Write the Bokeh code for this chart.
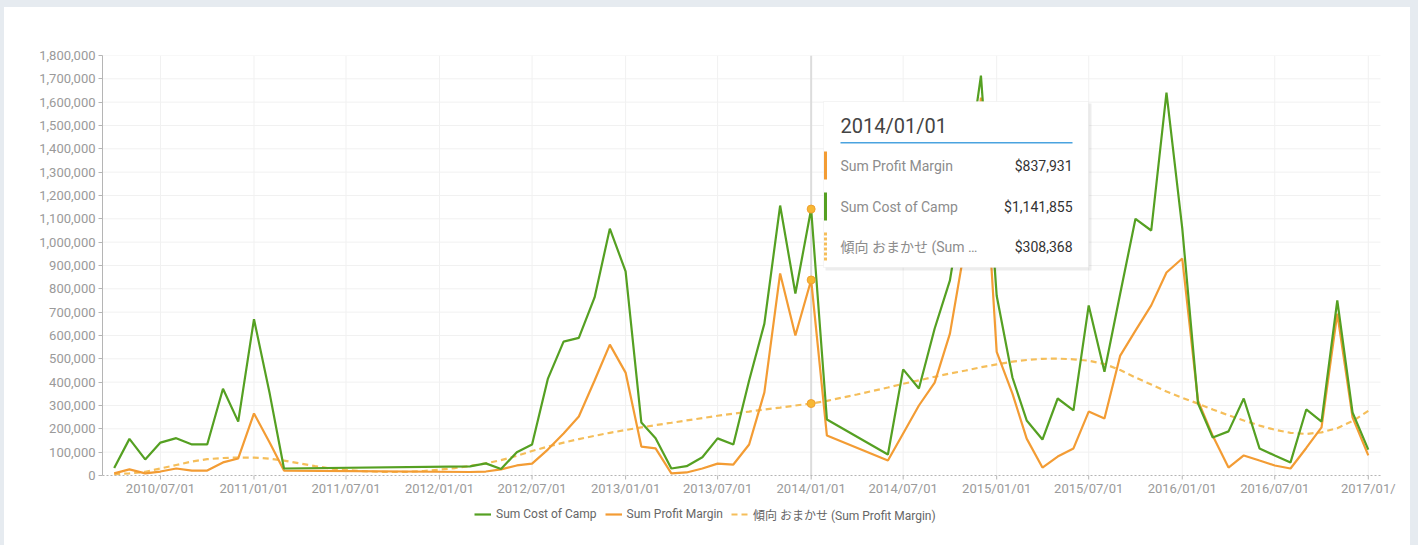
import pandas as pd
from bokeh.plotting import figure
from bokeh.models import (Range1d, FixedTicker, NumeralTickFormatter, Legend, LegendItem,
                          BoxAnnotation, Label, ColumnDataSource)
from bokeh.embed import file_html
from bokeh.resources import INLINE

# ---------------- data ----------------
months_a = pd.date_range("2010-04-01", "2011-03-01", freq="MS")
months_b = pd.date_range("2012-03-01", "2014-02-01", freq="MS")
months_c = pd.date_range("2014-06-01", "2017-01-01", freq="MS")
dates = list(months_a) + list(months_b) + list(months_c)

cost_of_camp = [
    32000, 157000, 69000, 141000, 160000, 133000, 133000, 372000, 231000, 670000, 350000, 30000,
    39000, 52000, 28000, 100000, 133000, 414000, 574000, 590000, 763000, 1058000, 875000, 227000,
    160000, 30000, 40000, 78000, 159000, 133000, 407000, 651000, 1157000, 780000, 1141855, 240000,
    90000, 455000, 373000, 630000, 836000, 1250000, 1714000, 770000, 420000, 236000, 154000, 330000,
    279000, 729000, 445000, 780000, 1100000, 1050000, 1641000, 1060000, 309000, 163000, 189000, 330000,
    116000, 86000, 56000, 283000, 231000, 750000, 270000, 111000,
]
profit_margin = [
    9000, 26000, 9000, 17000, 30000, 21000, 21000, 56000, 73000, 266000, 140000, 21000,
    15000, 17000, 26000, 43000, 51000, 111000, 180000, 253000, 407000, 561000, 441000, 124000,
    116000, 9000, 13000, 30000, 51000, 47000, 133000, 356000, 866000, 600000, 837931, 171000,
    64000, 180000, 300000, 398000, 608000, 1000000, 1620000, 530000, 351000, 158000, 34000, 81000,
    116000, 274000, 244000, 514000, 621000, 729000, 870000, 930000, 321000, 170000, 34000, 86000,
    64000, 43000, 30000, 118000, 206000, 694000, 249000, 86000,
]

trend_dates = pd.date_range("2010-04-01", "2017-01-01", freq="MS")
trend = [
    5000, 9000, 16000, 30000, 45000, 60000, 70000, 75000, 77000,
    77000, 72000, 64000, 52000, 40000, 30000, 24000, 19000, 16000, 15000, 16000, 19000,
    25000, 32000, 41000, 52000, 66000, 84000, 105000, 124000, 141000, 156000, 170000, 183000,
    195000, 206000, 216000, 226000, 236000, 246000, 256000, 265000, 274000, 283000, 291000, 300000,
    308368, 320000, 333000, 347000, 362000, 377000, 393000, 408000, 423000, 437000, 450000, 464000,
    476000, 488000, 495000, 500000, 501000, 498000, 492000, 478000, 452000, 420000, 390000, 360000,
    333000, 308000, 283000, 258000, 236000, 214000, 196000, 183000, 178000, 185000, 203000, 233000,
    277000,
]

x_tick_dates = ["2010-07-01", "2011-01-01", "2011-07-01", "2012-01-01", "2012-07-01", "2013-01-01",
                "2013-07-01", "2014-01-01", "2014-07-01", "2015-01-01", "2015-07-01", "2016-01-01",
                "2016-07-01", "2017-01-01"]
x_tick_labels = ["2010/07/01", "2011/01/01", "2011/07/01", "2012/01/01", "2012/07/01", "2013/01/01",
                 "2013/07/01", "2014/01/01", "2014/07/01", "2015/01/01", "2015/07/01", "2016/01/01",
                 "2016/07/01", "2017/01/"]

hover_date = "2014/01/01"
series_names = ["Sum Cost of Camp", "Sum Profit Margin", "傾向 おまかせ (Sum Profit Margin)"]
tooltip_rows = [("Sum Profit Margin", "$837,931"), ("Sum Cost of Camp", "$1,141,855"),
                ("傾向 おまかせ (Sum …", "$308,368")]

# ---------------- styling ----------------
GREEN = "#55a022"
ORANGE = "#f39c34"
TREND = "#f5be5a"
AXIS = "#b5b5b5"
GRID = "#f1f1f1"
FONT = "Roboto, 'Noto Sans CJK JP', sans-serif"


def ms(ts):
    return pd.Timestamp(ts).value / 1e6


y_max = 1800000
OX, OY = 4, 7                     # card offset on the page
W, H = 1406, 538
FL, FR, FT, FBOT = 98, 8, 48, 3   # frame borders inside the figure
PY0, PYMAX = 475, 55              # page rows of value 0 and y_max
PL, PR = OX + FL, OX + W - FR     # page columns of the frame edges
AXIS_RIGHT = 1380                 # page column where the plotted axis ends

# time scale: 2010-03-09 at the axis start, 2017-01-25 at the axis end (page x 102 .. 1380)
x_start = ms("2010-03-09")
ms_per_px = (ms("2017-01-25") - x_start) / (AXIS_RIGHT - PL)
x_end = x_start + (PR - PL) * ms_per_px


def dx(px):
    return x_start + (px - PL) * ms_per_px


def dy(py):
    return (PY0 - py) / (PY0 - PYMAX) * y_max


frame_bottom_page = OY + H - FBOT
y_start = dy(frame_bottom_page)

p = figure(width=W, height=H, output_backend="svg", toolbar_location=None,
           x_axis_location=None, x_range=Range1d(x_start, x_end),
           y_range=Range1d(y_start, y_max), min_border_left=FL, min_border_right=FR,
           min_border_top=FT, min_border_bottom=FBOT)
p.outline_line_color = None
p.background_fill_color = "white"
p.border_fill_color = "white"
p.xgrid.visible = False
p.ygrid.visible = False

src = ColumnDataSource(dict(x=dates, cost=cost_of_camp, profit=profit_margin))
tsrc = ColumnDataSource(dict(x=trend_dates, trend=trend))
tick_ms = [ms(t) for t in x_tick_dates]
y_ticks = list(range(0, y_max + 1, 100000))

# grid lines (guides over the plotted area only)
gv = p.segment(x0=tick_ms, y0=[0] * len(tick_ms), x1=tick_ms, y1=[y_max] * len(tick_ms),
               line_color=GRID, line_width=1)
gv.level = "underlay"
gh = p.segment(x0=[dx(PL)] * (len(y_ticks) - 1), y0=y_ticks[1:],
               x1=[dx(AXIS_RIGHT)] * (len(y_ticks) - 1), y1=y_ticks[1:],
               line_color=GRID, line_width=1)
gh.level = "underlay"
hover_ts = pd.Timestamp(hover_date.replace("/", "-"))
cross = p.segment(x0=[ms(hover_ts)], y0=[0], x1=[ms(hover_ts)], y1=[y_max],
                  line_color="#dcdcdc", line_width=2)
cross.level = "underlay"

r_trend = p.line("x", "trend", source=tsrc, line_color=TREND, line_width=2.2, line_dash="6 4")
r_profit = p.line("x", "profit", source=src, line_color=ORANGE, line_width=2.2)
r_cost = p.line("x", "cost", source=src, line_color=GREEN, line_width=2.2)

# highlighted points at hover date
hi = dates.index(hover_ts)
ti = list(trend_dates).index(hover_ts)
p.scatter([dates[hi]] * 3, [cost_of_camp[hi], profit_margin[hi], trend[ti]], size=8,
          fill_color="#f7b733", line_color="#f0a030", line_width=1)

# x axis (line, ticks, labels)
p.segment(x0=[dx(PL)], y0=[0], x1=[dx(AXIS_RIGHT)], y1=[0], line_color=AXIS, line_width=1,
          line_dash="2 2")
p.segment(x0=tick_ms, y0=[0] * len(tick_ms), x1=tick_ms, y1=[dy(PY0 + 4)] * len(tick_ms),
          line_color=AXIS, line_width=1)
for t, lab in zip(tick_ms, x_tick_labels):
    p.add_layout(Label(x=t, y=dy(488), text=lab, text_font=FONT, text_font_size="13px",
                       text_color="#9a9a9a", text_align="center", text_baseline="middle"))

# y axis
p.yaxis.ticker = FixedTicker(ticks=y_ticks)
p.yaxis.formatter = NumeralTickFormatter(format="0,0")
p.yaxis.bounds = (0, y_max)
p.yaxis.axis_line_color = AXIS
p.yaxis.major_tick_line_color = AXIS
p.yaxis.major_tick_out = 4
p.yaxis.major_tick_in = 0
p.yaxis.minor_tick_line_color = None
p.yaxis.major_label_text_color = "#9a9a9a"
p.yaxis.major_label_text_font = FONT
p.yaxis.major_label_text_font_size = "13px"
p.yaxis.major_label_standoff = 3

# legend (inside the frame's lower strip, below the axis labels)
legend_center_page = 512
legend_h = 24
legend = Legend(items=[LegendItem(label=series_names[0], renderers=[r_cost]),
                       LegendItem(label=series_names[1], renderers=[r_profit]),
                       LegendItem(label=series_names[2], renderers=[r_trend])],
                orientation="horizontal",
                location=(476 - 2 - PL, frame_bottom_page - legend_center_page - legend_h // 2),
                label_text_font=FONT, label_text_font_size="12px", label_text_color="#666666",
                glyph_width=17, label_standoff=5, spacing=8, padding=2, margin=0,
                border_line_color=None, background_fill_alpha=0)
p.add_layout(legend)

# ---------------- tooltip (annotation) ----------------
p.add_layout(BoxAnnotation(left=dx(825), right=dx(1091), top=dy(103), bottom=dy(270),
                           fill_color="black", fill_alpha=0.07, line_color=None, level="overlay"))
p.add_layout(BoxAnnotation(left=dx(823), right=dx(1088), top=dy(101), bottom=dy(267),
                           fill_color="white", fill_alpha=1, line_color="#e2e2e2", line_width=1,
                           level="overlay"))
p.add_layout(Label(x=dx(840), y=dy(125), text=hover_date, text_font=FONT, text_font_size="20px",
                   text_color="#444444", text_baseline="middle", text_align="left", level="overlay"))
p.add_layout(BoxAnnotation(left=dx(840), right=dx(1072), top=dy(141.5), bottom=dy(143),
                           fill_color="#4aa3df", fill_alpha=1, line_color=None, level="overlay"))

row_y = [165, 206, 246]
bar_colors = [ORANGE, GREEN, TREND]
for i, (lab, val) in enumerate(tooltip_rows):
    yc = row_y[i]
    if i < 2:
        p.add_layout(BoxAnnotation(left=dx(823.5), right=dx(826.5), top=dy(yc - 14), bottom=dy(yc + 14),
                                   fill_color=bar_colors[i], fill_alpha=1, line_color=None,
                                   level="overlay"))
    else:
        for k in range(6):
            y0 = yc - 14 + k * 5
            p.add_layout(BoxAnnotation(left=dx(823.5), right=dx(826.5), top=dy(y0), bottom=dy(y0 + 3),
                                       fill_color=bar_colors[i], fill_alpha=1, line_color=None,
                                       level="overlay"))
    p.add_layout(Label(x=dx(840), y=dy(yc), text=lab, text_font=FONT, text_font_size="14px",
                       text_color="#8c8c8c", text_baseline="middle", text_align="left",
                       level="overlay"))
    p.add_layout(Label(x=dx(1072), y=dy(yc), text=val, text_font=FONT, text_font_size="14px",
                       text_color="#333333", text_baseline="middle", text_align="right",
                       level="overlay"))

html = file_html(p, INLINE)
page_style = ("<style>html, body { background: linear-gradient(#e6ebf0 %dpx, transparent %dpx),"
              " linear-gradient(to right, #e6ebf0 %dpx, #ffffff %dpx, #ffffff %dpx, #e6ebf0 %dpx); }"
              " body { padding:%dpx 0 0 %dpx; margin:0; }</style>"
              % (OY, OY, OX, OX, OX + W, OX + W, OY, OX))
html = html.replace("</head>", page_style + "</head>", 1)
open("out.html", "w").write(html)
